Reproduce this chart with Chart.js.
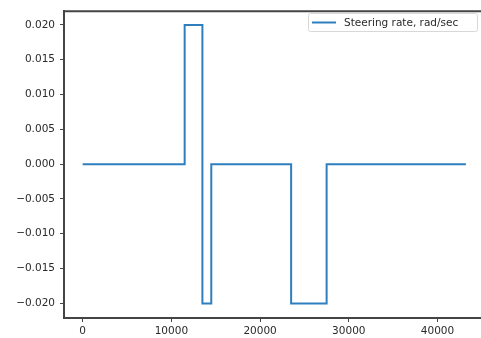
<!DOCTYPE html>
<html>
<head>
<meta charset="utf-8">
<script src="https://cdn.jsdelivr.net/npm/chart.js@4"></script>
<style>
  html, body { margin: 0; padding: 0; background: #fff; }
  #wrap { width: 481px; height: 338px; }
</style>
</head>
<body>
<div id="wrap"><canvas id="chart" width="481" height="338"></canvas></div>
<script>
// switching times (x) and the steering rate held from each time on
const times = [0, 11500, 13500, 14500, 23500, 27500, 43200];
const rates = [0, 0.02, -0.02, 0, -0.02, 0, 0];
const seriesLabel = 'Steering rate, rad/sec';
const xTicks = [0, 10000, 20000, 30000, 40000];
const yTicks = [-0.02, -0.015, -0.01, -0.005, 0, 0.005, 0.01, 0.015, 0.02];

const lineColor = '#2f7fbf';
const axisColor = '#444';
const textColor = '#2a2a2a';
const fontFamily = 'DejaVu Sans';

// legend box + top frame line, drawn matplotlib-style
const frameAndLegend = {
  id: 'frameAndLegend',
  afterDraw(chart) {
    const { ctx, chartArea } = chart;
    ctx.save();
    ctx.strokeStyle = axisColor;
    ctx.lineWidth = 2;
    ctx.beginPath();
    ctx.moveTo(chartArea.left - 1, chartArea.top);
    ctx.lineTo(chartArea.right, chartArea.top);
    ctx.stroke();

    // legend
    const bx = 308.5, by = 13.5, bw = 169, bh = 18;
    ctx.fillStyle = 'rgba(255,255,255,0.85)';
    ctx.strokeStyle = '#d8d8d8';
    ctx.lineWidth = 1;
    ctx.beginPath();
    ctx.roundRect(bx, by, bw, bh, 2);
    ctx.fill();
    ctx.stroke();
    ctx.strokeStyle = lineColor;
    ctx.lineWidth = 2;
    ctx.beginPath();
    ctx.moveTo(312, by + bh / 2);
    ctx.lineTo(336, by + bh / 2);
    ctx.stroke();
    ctx.fillStyle = textColor;
    ctx.font = '10.5px ' + fontFamily;
    ctx.textBaseline = 'middle';
    ctx.textAlign = 'left';
    ctx.fillText(seriesLabel, 344, by + bh / 2 + 0.5);
    ctx.restore();
  }
};

new Chart(document.getElementById('chart'), {
  type: 'line',
  data: {
    datasets: [{
      label: seriesLabel,
      data: times.map((t, i) => ({ x: t, y: rates[i] })),
      borderColor: lineColor,
      borderWidth: 2,
      stepped: 'before',
      pointRadius: 0,
      fill: false
    }]
  },
  options: {
    responsive: false,
    animation: false,
    layout: { padding: { top: 4, right: 0, left: 0, bottom: 0 } },
    scales: {
      x: {
        type: 'linear',
        min: -2100,
        max: 44900,
        afterBuildTicks: s => { s.ticks = xTicks.map(v => ({ value: v })); },
        afterFit: s => { s.height = 20; },
        ticks: {
          includeBounds: false,
          maxRotation: 0,
          padding: 3,
          color: textColor,
          font: { family: fontFamily, size: 10.5 },
          callback: v => String(v)
        },
        grid: { drawOnChartArea: false, drawTicks: true, tickLength: 4, tickColor: axisColor },
        border: { color: axisColor, width: 2 }
      },
      y: {
        min: -0.0221,
        max: 0.02195,
        afterBuildTicks: s => { s.ticks = yTicks.map(v => ({ value: v })); },
        afterFit: s => { s.width = 64; },
        ticks: {
          includeBounds: false,
          padding: 5,
          color: textColor,
          font: { family: fontFamily, size: 10.5 },
          callback: v => (v < 0 ? '\u2212' : '') + Math.abs(v).toFixed(3)
        },
        grid: { drawOnChartArea: false, drawTicks: true, tickLength: 4, tickColor: axisColor },
        border: { color: axisColor, width: 2 }
      }
    },
    plugins: {
      legend: { display: false },
      tooltip: { enabled: false }
    }
  },
  plugins: [frameAndLegend]
});
</script>
</body>
</html>
